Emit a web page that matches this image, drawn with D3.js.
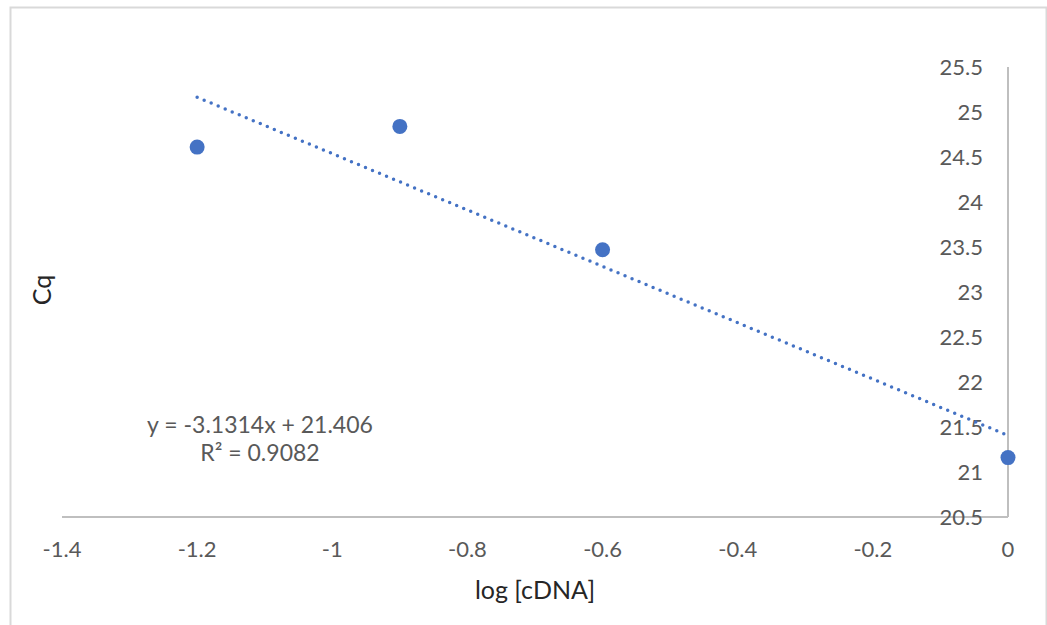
<!DOCTYPE html>
<html>
<head>
<meta charset="utf-8">
<script src="https://cdn.jsdelivr.net/npm/d3@7"></script>
<style>
  body { margin: 0; background: #fff; }
  text { font-family: Lato, "Open Sans", sans-serif; }
</style>
</head>
<body>
<div id="vis"></div>
<script>
// Cq vs log[cDNA] standard curve
var w = 1047;
var h = 625;

var logCdna = [-1.2, -0.9, -0.6, 0];
var cq = [24.61, 24.84, 23.47, 21.16];
var xTicks = [-1.4, -1.2, -1, -0.8, -0.6, -0.4, -0.2, 0];
var yTicks = [20.5, 21, 21.5, 22, 22.5, 23, 23.5, 24, 24.5, 25, 25.5];
var slope = -3.1314;
var intercept = 21.406;
var eqLines = ["y = -3.1314x + 21.406", "R² = 0.9082"];

var svg = d3.select("#vis").append("svg").attr("width", w).attr("height", h);

// chart border
svg.append("rect")
  .attr("x", 10.5)
  .attr("y", 7.5)
  .attr("width", 1036)
  .attr("height", 640)
  .attr("fill", "white")
  .attr("stroke", "#d9d9d9")
  .attr("stroke-width", 2);

var x = d3.scaleLinear().domain([-1.4, 0]).range([62, 1008]);
var y = d3.scaleLinear().domain([20.5, 25.5]).range([517, 67]);

// x axis line + labels
svg.append("line")
  .attr("x1", x(-1.4)).attr("x2", x(0))
  .attr("y1", y(20.5)).attr("y2", y(20.5))
  .attr("stroke", "#bfbfbf").attr("stroke-width", 2);

svg.selectAll(".xt").data(xTicks).enter().append("text")
  .attr("class", "xt")
  .attr("x", function (d) { return x(d); })
  .attr("y", 549)
  .attr("dy", "0.35em")
  .attr("text-anchor", "middle")
  .attr("font-size", 22)
  .attr("fill", "#595959")
  .text(function (d) { return d3.format("")(d).replace("−", "-"); });

// y axis sits at x = 0
svg.append("line")
  .attr("x1", x(0)).attr("x2", x(0))
  .attr("y1", y(20.5)).attr("y2", y(25.5))
  .attr("stroke", "#bfbfbf").attr("stroke-width", 2);

svg.selectAll(".yt").data(yTicks).enter().append("text")
  .attr("class", "yt")
  .attr("x", 983)
  .attr("y", function (d) { return y(d); })
  .attr("dy", "0.35em")
  .attr("text-anchor", "end")
  .attr("font-size", 22)
  .attr("fill", "#595959")
  .text(function (d) { return d; });

// trendline (linear fit)
svg.append("line")
  .attr("x1", x(-1.2)).attr("y1", y(slope * -1.2 + intercept))
  .attr("x2", x(0)).attr("y2", y(intercept))
  .attr("stroke", "#4472c4")
  .attr("stroke-width", 3.5)
  .attr("stroke-linecap", "round")
  .attr("stroke-dasharray", "0 7.6");

// points
svg.selectAll(".pt").data(logCdna).enter().append("circle")
  .attr("class", "pt")
  .attr("cx", function (d) { return x(d); })
  .attr("cy", function (d, i) { return y(cq[i]); })
  .attr("r", 7.5)
  .attr("fill", "#4472c4");

// equation
svg.selectAll(".eq").data(eqLines).enter().append("text")
  .attr("class", "eq")
  .attr("x", 260)
  .attr("y", function (d, i) { return 425 + i * 28; })
  .attr("dy", "0.35em")
  .attr("text-anchor", "middle")
  .attr("font-size", 23)
  .attr("fill", "#595959")
  .text(function (d) { return d; });

// axis titles
svg.append("text")
  .attr("x", 535).attr("y", 590)
  .attr("dy", "0.35em")
  .attr("text-anchor", "middle")
  .attr("font-size", 25)
  .attr("fill", "#262626")
  .text("log [cDNA]");

svg.append("text")
  .attr("transform", "translate(42,290) rotate(-90)")
  .attr("dy", "0.35em")
  .attr("text-anchor", "middle")
  .attr("font-size", 25)
  .attr("fill", "#262626")
  .text("Cq");
</script>
</body>
</html>
